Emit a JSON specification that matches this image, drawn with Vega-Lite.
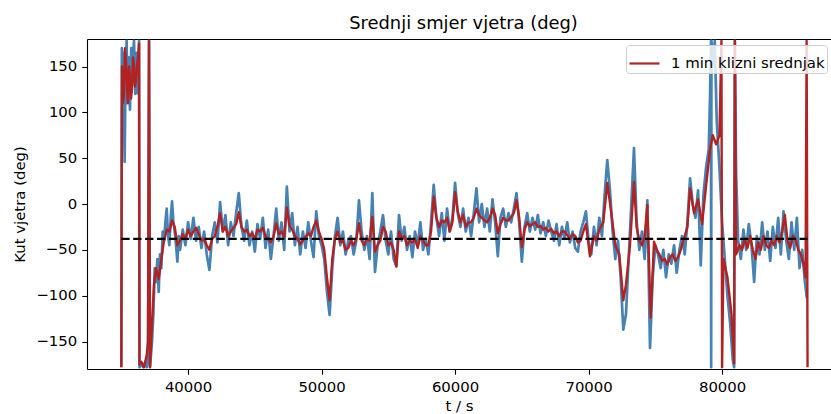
{
  "$schema": "https://vega.github.io/schema/vega-lite/v6.json",
  "width": 744,
  "height": 330,
  "autosize": {"type": "none"},
  "padding": {"left": 87, "top": 39, "right": 0, "bottom": 45},
  "background": "white",
  "config": {
    "font": "DejaVu Sans",
    "view": {"stroke": null},
    "axis": {
      "domainColor": "black",
      "domainWidth": 1.1,
      "tickColor": "black",
      "tickSize": 5.2,
      "tickWidth": 1.1,
      "labelColor": "black",
      "labelFont": "DejaVu Sans",
      "labelFontSize": 14.9,
      "labelPadding": 5,
      "titleFont": "DejaVu Sans",
      "titleFontSize": 14.9,
      "titleFontWeight": "normal",
      "titleColor": "black",
      "grid": false
    }
  },
  "title": {
    "text": "Srednji smjer vjetra (deg)",
    "font": "DejaVu Sans",
    "fontSize": 17.9,
    "fontWeight": "normal",
    "color": "black",
    "anchor": "middle",
    "baseline": "alphabetic",
    "offset": 9,
    "dx": 4.5,
    "dy": 17
  },
  "datasets": {
    "raw": [
      {"t":35000,"v":-178},{"t":35040,"v":170},{"t":35100,"v":140},{"t":35150,"v":165},{"t":35250,"v":46},{"t":35300,"v":120},{"t":35350,"v":150},{"t":35400,"v":178},{"t":35450,"v":110},{"t":35500,"v":140},{"t":35550,"v":160},{"t":35600,"v":125},{"t":35650,"v":103},{"t":35700,"v":150},{"t":35750,"v":170},{"t":35800,"v":130},{"t":35850,"v":140},{"t":35900,"v":165},{"t":35950,"v":178},{"t":36000,"v":150},{"t":36050,"v":120},{"t":36100,"v":150},{"t":36150,"v":165},{"t":36200,"v":140},{"t":36250,"v":121},{"t":36300,"v":160},{"t":36330,"v":178},{"t":36360,"v":-178},{"t":36500,"v":-175},{"t":36650,"v":-178},{"t":36800,"v":-172},{"t":36900,"v":-178},{"t":37000,"v":-170},{"t":37075,"v":178},{"t":37150,"v":-178},{"t":37300,"v":-150},{"t":37400,"v":-120},{"t":37500,"v":-70},{"t":37600,"v":-85},{"t":37700,"v":-60},{"t":37800,"v":-96},{"t":37900,"v":-55},{"t":38000,"v":-70},{"t":38100,"v":-30},{"t":38200,"v":-40},{"t":38300,"v":-20},{"t":38400,"v":-5},{"t":38500,"v":-35},{"t":38600,"v":-45},{"t":38700,"v":-15},{"t":38800,"v":3},{"t":38900,"v":-20},{"t":39000,"v":-30},{"t":39100,"v":-45},{"t":39200,"v":-63},{"t":39300,"v":-35},{"t":39400,"v":-50},
      {"t":39600,"v":-28},{"t":39800,"v":-45},{"t":40000,"v":-20},{"t":40200,"v":-38},{"t":40400,"v":-15},{"t":40600,"v":-40},{"t":40800,"v":-25},{"t":41000,"v":-48},{"t":41200,"v":-30},{"t":41400,"v":-55},{"t":41600,"v":-72},{"t":41800,"v":-35},{"t":42000,"v":-20},{"t":42200,"v":-42},{"t":42400,"v":2},{"t":42600,"v":-30},{"t":42800,"v":-12},{"t":43000,"v":-45},{"t":43200,"v":-20},{"t":43400,"v":-35},{"t":43600,"v":-10},{"t":43800,"v":12},{"t":44000,"v":-25},{"t":44200,"v":-40},{"t":44400,"v":-18},{"t":44600,"v":-45},{"t":44800,"v":-30},{"t":45000,"v":-52},{"t":45200,"v":-22},{"t":45400,"v":-38},{"t":45600,"v":-15},{"t":45800,"v":-48},{"t":46000,"v":-28},{"t":46200,"v":-60},{"t":46400,"v":-35},{"t":46600,"v":-5},{"t":46800,"v":-40},{"t":47000,"v":-20},{"t":47200,"v":-50},{"t":47400,"v":19},{"t":47600,"v":-30},{"t":47800,"v":-10},{"t":48000,"v":-45},{"t":48200,"v":-25},{"t":48400,"v":-55},{"t":48600,"v":-30},{"t":48800,"v":-48},{"t":49000,"v":-20},{"t":49200,"v":-40},{"t":49400,"v":-58},{"t":49600,"v":-8},{"t":49800,"v":-35},{"t":50000,"v":-45},{"t":50200,"v":-60},{"t":50400,"v":-95},{"t":50600,"v":-121},{"t":50800,"v":-70},{"t":51000,"v":-35},{"t":51200,"v":-15},{"t":51400,"v":-45},{"t":51600,"v":-30},{"t":51800,"v":-55},{"t":52000,"v":-40},
      {"t":52200,"v":-35},{"t":52400,"v":-55},{"t":52600,"v":-40},{"t":52800,"v":4},{"t":53000,"v":-30},{"t":53200,"v":-50},{"t":53400,"v":-35},{"t":53600,"v":-60},{"t":53800,"v":12},{"t":54000,"v":-74},{"t":54200,"v":-45},{"t":54400,"v":-30},{"t":54600,"v":-12},{"t":54800,"v":-40},{"t":55000,"v":-55},{"t":55200,"v":-30},{"t":55400,"v":-60},{"t":55600,"v":-68},{"t":55800,"v":-12},{"t":56000,"v":-40},{"t":56200,"v":-25},{"t":56400,"v":-50},{"t":56600,"v":-35},{"t":56800,"v":-58},{"t":57000,"v":-30},{"t":57200,"v":-45},{"t":57400,"v":-20},{"t":57600,"v":-50},{"t":57800,"v":-38},{"t":58000,"v":-55},{"t":58200,"v":-20},{"t":58400,"v":21},{"t":58600,"v":-15},{"t":58800,"v":-35},{"t":59000,"v":-10},{"t":59200,"v":-40},{"t":59400,"v":-5},{"t":59600,"v":-30},{"t":59800,"v":-15},{"t":60000,"v":23},{"t":60200,"v":-10},{"t":60400,"v":-25},{"t":60600,"v":-5},{"t":60800,"v":-30},{"t":61000,"v":-15},{"t":61200,"v":-35},{"t":61400,"v":-10},{"t":61600,"v":17},{"t":61800,"v":-20},{"t":62000,"v":0},{"t":62200,"v":-25},{"t":62400,"v":-5},{"t":62600,"v":-30},{"t":62800,"v":5},{"t":63000,"v":-20},{"t":63200,"v":-57},{"t":63400,"v":-15},{"t":63600,"v":-5},{"t":63800,"v":-25},{"t":64000,"v":-10},{"t":64200,"v":-20},{"t":64400,"v":-5},{"t":64600,"v":12},{"t":64800,"v":-20},{"t":65000,"v":-63},{"t":65200,"v":-25},{"t":65400,"v":-10},{"t":65600,"v":-30},{"t":65800,"v":-15},{"t":66000,"v":-28},{"t":66200,"v":-12},{"t":66400,"v":-32},{"t":66600,"v":-20},{"t":66800,"v":-35},{"t":67000,"v":-18},{"t":67200,"v":-30},{"t":67400,"v":-40},{"t":67600,"v":-22},{"t":67800,"v":-45},{"t":68000,"v":-25},{"t":68200,"v":-38},{"t":68400,"v":-20},{"t":68600,"v":-42},{"t":68800,"v":-30},{"t":69000,"v":-48},{"t":69200,"v":-52},{"t":69400,"v":-30},{"t":69600,"v":-20},{"t":69800,"v":-8},{"t":70000,"v":-40},{"t":70200,"v":-55},{"t":70400,"v":-25},{"t":70600,"v":-45},{"t":70800,"v":-15},{"t":71000,"v":-35},{"t":71200,"v":10},{"t":71400,"v":48},{"t":71600,"v":15},{"t":71800,"v":-30},{"t":72000,"v":-60},{"t":72200,"v":-40},{"t":72400,"v":-80},{"t":72600,"v":-137},{"t":72800,"v":-120},{"t":73000,"v":-60},{"t":73200,"v":0},{"t":73400,"v":61},{"t":73600,"v":-20},{"t":73800,"v":-50},{"t":74000,"v":-30},{"t":74200,"v":-60},{"t":74400,"v":4},{"t":74600,"v":-157},{"t":74800,"v":-80},{"t":75000,"v":-45},{"t":75200,"v":-55},{"t":75400,"v":-70},{"t":75600,"v":-50},{"t":75800,"v":-80},{"t":76000,"v":-55},{"t":76200,"v":-65},{"t":76400,"v":-45},{"t":76600,"v":-75},{"t":76800,"v":-50},{"t":77000,"v":-35},{"t":77200,"v":-55},{"t":77400,"v":-20},{"t":77600,"v":28},{"t":77800,"v":0},{"t":78000,"v":-15},{"t":78200,"v":15},{"t":78400,"v":-67},{"t":78600,"v":10},{"t":78800,"v":40},{"t":79000,"v":60},{"t":79100,"v":120},{"t":79169,"v":178},{"t":79180,"v":-178},{"t":79200,"v":178},{"t":79319,"v":150},{"t":79450,"v":178},{"t":79600,"v":90},{"t":79800,"v":40},{"t":80000,"v":-20},{"t":80200,"v":-60},{"t":80400,"v":-100},{"t":80600,"v":-130},{"t":80800,"v":-170},{"t":80900,"v":-178},{"t":80950,"v":178},{"t":81050,"v":32},{"t":81200,"v":-40},{"t":81400,"v":-60},{"t":81600,"v":-28},{"t":81800,"v":-50},{"t":82000,"v":-22},{"t":82200,"v":-45},{"t":82400,"v":-85},{"t":82600,"v":-35},{"t":82800,"v":-55},{"t":83000,"v":-20},{"t":83200,"v":-50},{"t":83400,"v":-30},{"t":83600,"v":-62},{"t":83800,"v":-25},{"t":84000,"v":-48},{"t":84200,"v":-15},{"t":84400,"v":-55},{"t":84600,"v":-8},{"t":84800,"v":-40},{"t":85000,"v":-60},{"t":85200,"v":-20},{"t":85400,"v":-50},{"t":85600,"v":-15},{"t":85800,"v":-70},{"t":86000,"v":-50},{"t":86200,"v":-85},{"t":86350,"v":-103}
    ],
    "avg": [
      {"t":35000,"v":-178},{"t":35050,"v":150},{"t":35125,"v":110},{"t":35200,"v":120},{"t":35275,"v":170},{"t":35350,"v":155},{"t":35425,"v":130},{"t":35500,"v":110},{"t":35575,"v":150},{"t":35650,"v":140},{"t":35725,"v":115},{"t":35800,"v":125},{"t":35875,"v":160},{"t":35950,"v":150},{"t":36025,"v":128},{"t":36100,"v":135},{"t":36175,"v":150},{"t":36250,"v":160},{"t":36330,"v":175},{"t":36360,"v":-175},{"t":36500,"v":-172},{"t":36700,"v":-178},{"t":36900,"v":-165},{"t":37000,"v":-150},{"t":37075,"v":178},{"t":37150,"v":-178},{"t":37300,"v":-130},{"t":37450,"v":-88},{"t":37600,"v":-70},{"t":37800,"v":-82},{"t":38000,"v":-60},{"t":38200,"v":-40},{"t":38400,"v":-28},{"t":38600,"v":-30},{"t":38800,"v":-18},{"t":39000,"v":-25},{"t":39200,"v":-45},{"t":39400,"v":-40},
      {"t":39600,"v":-33},{"t":39800,"v":-38},{"t":40000,"v":-28},{"t":40200,"v":-35},{"t":40400,"v":-30},{"t":40600,"v":-26},{"t":40800,"v":-33},{"t":41000,"v":-40},{"t":41200,"v":-38},{"t":41400,"v":-45},{"t":41600,"v":-50},{"t":41800,"v":-38},{"t":42000,"v":-35},{"t":42200,"v":-25},{"t":42400,"v":-10},{"t":42600,"v":-30},{"t":42800,"v":-25},{"t":43000,"v":-35},{"t":43200,"v":-30},{"t":43400,"v":-26},{"t":43600,"v":-22},{"t":43800,"v":-9},{"t":44000,"v":-25},{"t":44200,"v":-30},{"t":44400,"v":-28},{"t":44600,"v":-35},{"t":44800,"v":-32},{"t":45000,"v":-38},{"t":45200,"v":-28},{"t":45400,"v":-30},{"t":45600,"v":-26},{"t":45800,"v":-35},{"t":46000,"v":-38},{"t":46200,"v":-42},{"t":46400,"v":-36},{"t":46600,"v":-21},{"t":46800,"v":-33},{"t":47000,"v":-30},{"t":47200,"v":-36},{"t":47400,"v":-4},{"t":47600,"v":-24},{"t":47800,"v":-28},{"t":48000,"v":-35},{"t":48200,"v":-38},{"t":48400,"v":-44},{"t":48600,"v":-40},{"t":48800,"v":-36},{"t":49000,"v":-32},{"t":49200,"v":-35},{"t":49400,"v":-25},{"t":49600,"v":-18},{"t":49800,"v":-30},{"t":50000,"v":-38},{"t":50200,"v":-50},{"t":50400,"v":-80},{"t":50600,"v":-105},{"t":50800,"v":-60},{"t":51000,"v":-38},{"t":51200,"v":-30},{"t":51400,"v":-42},{"t":51600,"v":-40},{"t":51800,"v":-50},{"t":52000,"v":-48},
      {"t":52200,"v":-40},{"t":52400,"v":-45},{"t":52600,"v":-38},{"t":52800,"v":-21},{"t":53000,"v":-40},{"t":53200,"v":-45},{"t":53400,"v":-38},{"t":53600,"v":-40},{"t":53800,"v":-14},{"t":54000,"v":-52},{"t":54200,"v":-45},{"t":54400,"v":-40},{"t":54600,"v":-25},{"t":54800,"v":-30},{"t":55000,"v":-45},{"t":55200,"v":-42},{"t":55400,"v":-50},{"t":55600,"v":-68},{"t":55800,"v":-30},{"t":56000,"v":-38},{"t":56200,"v":-35},{"t":56400,"v":-45},{"t":56600,"v":-40},{"t":56800,"v":-42},{"t":57000,"v":-38},{"t":57200,"v":-48},{"t":57400,"v":-35},{"t":57600,"v":-40},{"t":57800,"v":-45},{"t":58000,"v":-45},{"t":58200,"v":-30},{"t":58400,"v":8},{"t":58600,"v":-15},{"t":58800,"v":-25},{"t":59000,"v":-18},{"t":59200,"v":-20},{"t":59400,"v":-15},{"t":59600,"v":-30},{"t":59800,"v":-20},{"t":60000,"v":13},{"t":60200,"v":-8},{"t":60400,"v":-20},{"t":60600,"v":-12},{"t":60800,"v":-25},{"t":61000,"v":-20},{"t":61200,"v":-20},{"t":61400,"v":-15},{"t":61600,"v":-5},{"t":61800,"v":-12},{"t":62000,"v":-15},{"t":62200,"v":-18},{"t":62400,"v":-20},{"t":62600,"v":-15},{"t":62800,"v":-5},{"t":63000,"v":-12},{"t":63200,"v":-32},{"t":63400,"v":-22},{"t":63600,"v":-15},{"t":63800,"v":-18},{"t":64000,"v":-18},{"t":64200,"v":-14},{"t":64400,"v":-10},{"t":64600,"v":4},{"t":64800,"v":-15},{"t":65000,"v":-47},{"t":65200,"v":-28},{"t":65400,"v":-20},{"t":65600,"v":-24},{"t":65800,"v":-22},{"t":66000,"v":-20},{"t":66200,"v":-25},{"t":66400,"v":-24},{"t":66600,"v":-28},{"t":66800,"v":-26},{"t":67000,"v":-30},{"t":67200,"v":-27},{"t":67400,"v":-32},{"t":67600,"v":-30},{"t":67800,"v":-35},{"t":68000,"v":-30},{"t":68200,"v":-30},{"t":68400,"v":-34},{"t":68600,"v":-38},{"t":68800,"v":-33},{"t":69000,"v":-35},{"t":69200,"v":-42},{"t":69400,"v":-40},{"t":69600,"v":-30},{"t":69800,"v":-22},{"t":70100,"v":-57},{"t":70400,"v":-35},{"t":70600,"v":-40},{"t":70800,"v":-28},{"t":71100,"v":-20},{"t":71400,"v":23},{"t":71700,"v":-10},{"t":72000,"v":-45},{"t":72300,"v":-55},{"t":72600,"v":-105},{"t":72800,"v":-88},{"t":73100,"v":-45},{"t":73400,"v":24},{"t":73600,"v":-25},{"t":73800,"v":-40},{"t":74000,"v":-45},{"t":74200,"v":-35},{"t":74400,"v":-1},{"t":74650,"v":-124},{"t":74900,"v":-41},{"t":75100,"v":-50},{"t":75300,"v":-55},{"t":75500,"v":-62},{"t":75700,"v":-60},{"t":75900,"v":-66},{"t":76100,"v":-58},{"t":76300,"v":-55},{"t":76500,"v":-62},{"t":76700,"v":-58},{"t":76900,"v":-50},{"t":77200,"v":-35},{"t":77400,"v":-25},{"t":77600,"v":17},{"t":77900,"v":-10},{"t":78200,"v":5},{"t":78500,"v":-22},{"t":78800,"v":20},{"t":79100,"v":60},{"t":79300,"v":75},{"t":79550,"v":65},{"t":79800,"v":75},{"t":79950,"v":178},{"t":80000,"v":-178},{"t":80100,"v":-60},{"t":80400,"v":-80},{"t":80700,"v":-120},{"t":80900,"v":-174},{"t":80960,"v":178},{"t":81050,"v":-55},{"t":81300,"v":-45},{"t":81500,"v":-50},{"t":81700,"v":-38},{"t":81900,"v":-48},{"t":82100,"v":-35},{"t":82300,"v":-50},{"t":82500,"v":-60},{"t":82700,"v":-42},{"t":82900,"v":-50},{"t":83100,"v":-35},{"t":83300,"v":-45},{"t":83500,"v":-48},{"t":83700,"v":-40},{"t":83900,"v":-45},{"t":84100,"v":-35},{"t":84300,"v":-42},{"t":84500,"v":-30},{"t":84700,"v":-12},{"t":84900,"v":-40},{"t":85100,"v":-48},{"t":85300,"v":-35},{"t":85500,"v":-38},{"t":85700,"v":-50},{"t":85900,"v":-55},{"t":86100,"v":-65},{"t":86250,"v":-80},{"t":86330,"v":178},{"t":86400,"v":-178}
    ],
    "mean": [{"t0": 35000, "t1": 86400, "m": -38}]
  },
  "layer": [
    {
      "data": {"name": "raw"},
      "mark": {"type": "line", "color": "#4682b4", "strokeWidth": 2.7, "strokeJoin": "round", "clip": true},
      "encoding": {
        "x": {
          "field": "t", "type": "quantitative",
          "scale": {"domain": [32430, 88156], "nice": false, "zero": false},
          "axis": {"values": [40000, 50000, 60000, 70000, 80000], "format": "d", "title": "t / s", "titlePadding": 4}
        },
        "y": {
          "field": "v", "type": "quantitative",
          "scale": {"domain": [-180, 180], "nice": false, "zero": false},
          "axis": {
            "values": [-150, -100, -50, 0, 50, 100, 150, 180],
            "format": "d",
            "labelExpr": "datum.value == 180 ? '' : replace(datum.label, '-', '−')",
            "grid": true,
            "gridColor": "black",
            "gridWidth": 1.1,
            "gridOpacity": {"condition": {"test": "datum.value == 180", "value": 1}, "value": 0},
            "tickOpacity": {"condition": {"test": "datum.value == 180", "value": 0}, "value": 1},
            "title": "Kut vjetra (deg)",
            "titlePadding": 8
          }
        }
      }
    },
    {
      "data": {"name": "avg"},
      "mark": {"type": "line", "strokeWidth": 2.4, "strokeJoin": "round", "clip": true},
      "encoding": {
        "x": {"field": "t", "type": "quantitative"},
        "y": {"field": "v", "type": "quantitative"},
        "stroke": {
          "datum": "1 min klizni srednjak",
          "type": "nominal",
          "scale": {"range": ["#b22222"]},
          "legend": {
            "orient": "none",
            "legendX": 539,
            "legendY": 6,
            "title": null,
            "symbolType": "stroke",
            "symbolSize": 900,
            "symbolStrokeWidth": 2.2,
            "labelOffset": 10,
            "labelFont": "DejaVu Sans",
            "labelFontSize": 14.9,
            "labelColor": "black",
            "padding": 2,
            "strokeColor": "#cccccc",
            "fillColor": "rgba(255,255,255,0.8)",
            "cornerRadius": 3
          }
        }
      }
    },
    {
      "data": {"name": "mean"},
      "mark": {"type": "rule", "color": "black", "strokeDash": [8.3, 3.6], "strokeWidth": 2.2},
      "encoding": {
        "x": {"field": "t0", "type": "quantitative"},
        "x2": {"field": "t1"},
        "y": {"field": "m", "type": "quantitative"}
      }
    }
  ]
}
